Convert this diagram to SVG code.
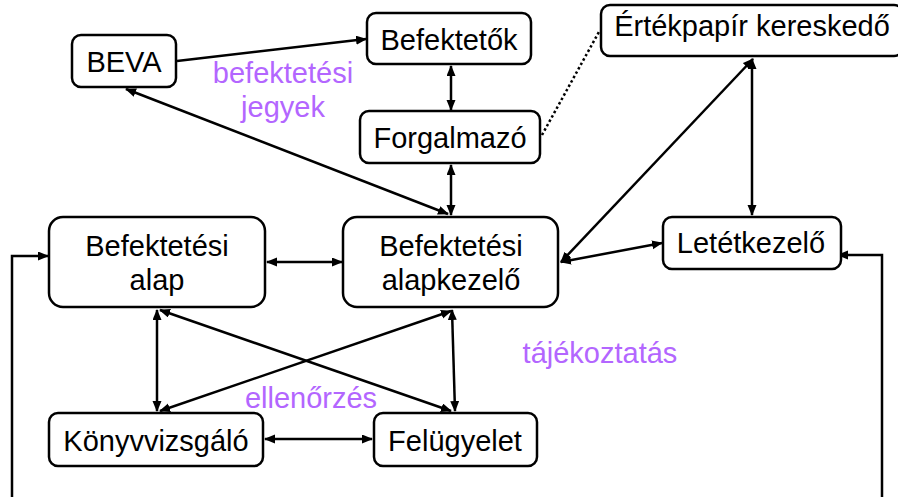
<svg xmlns="http://www.w3.org/2000/svg" width="898" height="497" viewBox="0 0 898 497">
<defs>
<style>
.box{fill:#fff;stroke:#000;stroke-width:2.5}
.t{font-family:"Liberation Sans",Arial,sans-serif;font-size:29px;fill:#000;text-anchor:middle}
.p{font-family:"Liberation Sans",Arial,sans-serif;font-size:29px;fill:#b366ff;text-anchor:middle}
.c{fill:none;stroke:#000;stroke-width:2.5}
.a{marker-end:url(#ah)}
.b{marker-start:url(#ah);marker-end:url(#ah)}
.d{stroke-dasharray:2.5 2.5}
</style>
<marker id="ah" markerUnits="userSpaceOnUse" markerWidth="12" markerHeight="10" refX="10" refY="4.5" orient="auto-start-reverse" viewBox="0 0 12 10">
<path d="M0,0 L11,4.5 L0,9 z" fill="#000"/>
</marker>
</defs>
<rect width="898" height="497" fill="#fff"/>
<g id="connectors">
<line class="c a" x1="177" y1="61" x2="366" y2="39"/>
<line class="c b" x1="126" y1="89" x2="448" y2="214"/>
<line class="c b" x1="451" y1="66" x2="451" y2="110"/>
<line class="c b" x1="451" y1="165" x2="451" y2="215"/>
<line class="c d" x1="542" y1="135" x2="600" y2="30"/>
<line class="c b" x1="561" y1="262" x2="753" y2="59"/>
<line class="c b" x1="752" y1="59" x2="752" y2="215"/>
<line class="c b" x1="561" y1="262" x2="662" y2="243"/>
<line class="c b" x1="267" y1="262" x2="342" y2="262"/>
<line class="c b" x1="157" y1="310" x2="157" y2="411"/>
<line class="c b" x1="160" y1="310" x2="451" y2="411"/>
<line class="c b" x1="451" y1="311" x2="160" y2="411"/>
<line class="c b" x1="452" y1="310" x2="455" y2="411"/>
<line class="c b" x1="265" y1="439" x2="372" y2="439"/>
<polyline class="c a" points="12,497 12,256 48,256"/>
<polyline class="c a" points="882,497 882,255 838,255"/>
</g>
<g id="beva"><rect class="box" x="72" y="35" width="104" height="52" rx="9"/><text class="t" x="124" y="72">BEVA</text></g>
<g id="befektetok"><rect class="box" x="367" y="13" width="164" height="51" rx="9"/><text class="t" x="449" y="50">Befektetők</text></g>
<g id="forgalmazo"><rect class="box" x="360" y="111" width="180" height="52" rx="9"/><text class="t" x="450" y="148">Forgalmazó</text></g>
<g id="ertekpapir"><rect class="box" x="601" y="5" width="302" height="51" rx="9"/><text class="t" x="752" y="36">Értékpapír kereskedő</text></g>
<g id="alap"><rect class="box" x="49" y="217" width="216" height="90" rx="14"/><text class="t" x="157" y="256">Befektetési</text><text class="t" x="157" y="290">alap</text></g>
<g id="alapkezelo"><rect class="box" x="343" y="217" width="215" height="90" rx="14"/><text class="t" x="451" y="256">Befektetési</text><text class="t" x="451" y="290">alapkezelő</text></g>
<g id="letetkezelo"><rect class="box" x="663" y="217" width="178" height="52" rx="9"/><text class="t" x="751" y="253">Letétkezelő</text></g>
<g id="konyvvizsgalo"><rect class="box" x="49" y="413" width="214" height="53" rx="9"/><text class="t" x="156" y="451">Könyvvizsgáló</text></g>
<g id="felugyelet"><rect class="box" x="374" y="413" width="163" height="53" rx="9"/><text class="t" x="455" y="451">Felügyelet</text></g>
<g id="labels">
<text class="p" x="283" y="83">befektetési</text>
<text class="p" x="283" y="117">jegyek</text>
<text class="p" x="600" y="363">tájékoztatás</text>
<text class="p" x="311" y="408">ellenőrzés</text>
</g>
</svg>
